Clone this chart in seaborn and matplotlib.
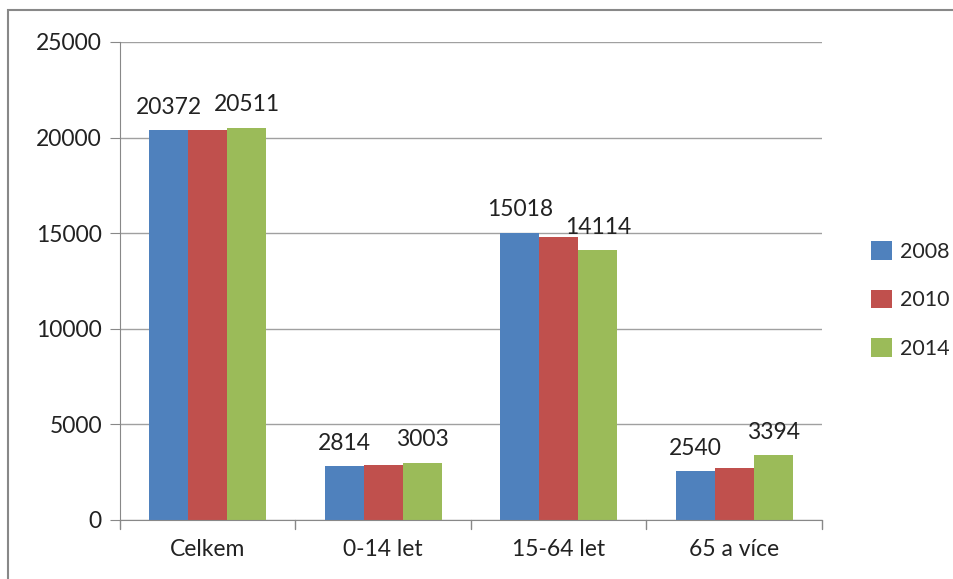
import matplotlib.pyplot as plt
import pandas as pd
import seaborn as sns

categories = ["Celkem", "0-14 let", "15-64 let", "65 a více"]
years = ["2008", "2010", "2014"]
v2008 = [20372, 2814, 15018, 2540]
v2010 = [20400, 2860, 14800, 2700]
v2014 = [20511, 3003, 14114, 3394]
colors = ["#4F81BD", "#C0504D", "#9BBB59"]

df = pd.DataFrame({
    "cat": categories * 3,
    "year": [y for y in years for _ in categories],
    "val": v2008 + v2010 + v2014,
})

sns.set_style("white")
plt.rcParams["font.family"] = ["Lato", "DejaVu Sans"]

fig = plt.figure(figsize=(9.54, 5.79), dpi=100)
ax = fig.add_axes([120 / 954, 59 / 579, 702 / 954, 478 / 579])

sns.barplot(data=df, x="cat", y="val", hue="year", palette=colors,
            width=0.667, saturation=1, ax=ax, legend=True, linewidth=0)

# labels only on 2008 and 2014 bars
for i, cont in enumerate(ax.containers):
    if years[i] == "2010":
        continue
    ax.bar_label(cont, labels=[str(int(v)) for v in cont.datavalues], padding=9,
                 fontsize=16.5, color="#222222")

ax.set_ylim(0, 25000)
ax.set_xlim(-0.5, 3.5)
ax.set_yticks(range(0, 25001, 5000))
ax.yaxis.grid(True, color="#A0A0A0", linewidth=1)
ax.set_axisbelow(True)
ax.set_xlabel("")
ax.set_ylabel("")
for s in ["top", "right"]:
    ax.spines[s].set_visible(False)
for s in ["left", "bottom"]:
    ax.spines[s].set_color("#888888")
ax.tick_params(axis="y", labelsize=16.5, length=7, color="#888888", direction="out",
               left=True, pad=6, labelcolor="#222222")
ax.set_xticks([0, 1, 2, 3])
ax.set_xticklabels(categories, fontsize=16.5, color="#222222")
ax.tick_params(axis="x", length=0, pad=14)
for b in [-0.5, 0.5, 1.5, 2.5, 3.5]:
    ax.plot([b, b], [0, -0.018], transform=ax.get_xaxis_transform(),
            color="#888888", lw=1, clip_on=False)

leg = ax.legend(loc="center left", bbox_to_anchor=((852 - 120) / 702, 0.46),
                frameon=False, fontsize=15.5, handlelength=0.95, handleheight=0.95,
                labelspacing=1.3, handletextpad=0.4)

# outer chart frame (top-left visible portion)
fig.patches.append(plt.Rectangle((8 / 954, -0.05), 1.2, 1 - 10 / 579 + 0.05,
                                 transform=fig.transFigure, fill=False,
                                 edgecolor="#888888", lw=1.5))

fig.savefig("out.png", dpi=100)
